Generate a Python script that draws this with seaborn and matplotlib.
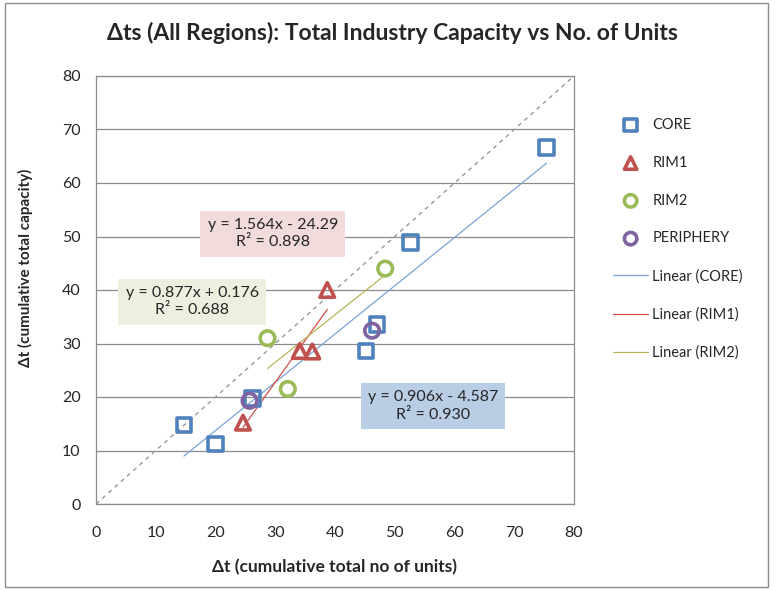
import matplotlib
matplotlib.use("Agg")
import matplotlib.pyplot as plt
import matplotlib.patches as mpatches
import pandas as pd
import seaborn as sns

# data
core_x = [75.4, 52.6, 47.0, 45.2, 26.2, 14.7, 20.0]
core_y = [66.6, 48.9, 33.6, 28.6, 19.7, 14.8, 11.2]
rim1_x = [38.7, 34.1, 36.2, 24.6]
rim1_y = [40.0, 28.6, 28.5, 15.2]
rim2_x = [48.4, 28.7, 32.1]
rim2_y = [44.0, 31.0, 21.5]
peri_x = [25.7, 46.2]
peri_y = [19.3, 32.4]

groups = ["CORE", "RIM1", "RIM2", "PERIPHERY"]
colors = {"CORE": "#4F81BD", "RIM1": "#C0504D", "RIM2": "#9BBB59", "PERIPHERY": "#8064A2"}
markers = {"CORE": "s", "RIM1": "^", "RIM2": "o", "PERIPHERY": "o"}
line_colors = {"CORE": "#7BA3D6", "RIM1": "#D0504D", "RIM2": "#B8B45A"}

eq_text = {
    "CORE": "y = 0.906x - 4.587\nR² = 0.930",
    "RIM1": "y = 1.564x - 24.29\nR² = 0.898",
    "RIM2": "y = 0.877x + 0.176\nR² = 0.688",
}
eq_pos = {"CORE": (56.4, 18.3), "RIM1": (29.6, 50.5), "RIM2": (16.1, 37.8)}
eq_bg = {"CORE": "#B9CDE5", "RIM1": "#F2DCDB", "RIM2": "#EBF1DE"}

df = pd.DataFrame({
    "x": core_x + rim1_x + rim2_x + peri_x,
    "y": core_y + rim1_y + rim2_y + peri_y,
    "region": ["CORE"] * len(core_x) + ["RIM1"] * len(rim1_x)
    + ["RIM2"] * len(rim2_x) + ["PERIPHERY"] * len(peri_x),
})

sns.set_style("white")
plt.rcParams["font.family"] = ["Lato", "DejaVu Sans"]

fig = plt.figure(figsize=(7.77, 5.90), dpi=100)
ax = fig.add_axes([96 / 777, 1 - 504 / 590, (574 - 96) / 777, (504 - 76) / 590])

ax.axline((0, 0), slope=1, color="#999999", lw=1, ls=(0, (3, 3)), zorder=1)

for g in groups:
    sub = df[df.region == g]
    sns.scatterplot(data=sub, x="x", y="y", ax=ax, marker=markers[g], s=110,
                    color=colors[g], facecolor="none", edgecolor=colors[g],
                    linewidth=2.6, label=g, zorder=3)

for g in ["CORE", "RIM1", "RIM2"]:
    sub = df[df.region == g]
    sns.regplot(data=sub, x="x", y="y", ax=ax, scatter=False, ci=None, truncate=True,
                label=f"Linear ({g})",
                line_kws={"color": line_colors[g], "lw": 0.9, "zorder": 2})
    ax.text(*eq_pos[g], eq_text[g], ha="center", va="center", fontsize=11.5,
            linespacing=1.3, zorder=4,
            bbox=dict(boxstyle="square,pad=0.45", fc=eq_bg[g], ec="none"))

ax.set_xlim(0, 80)
ax.set_ylim(0, 80)
ax.set_xticks(range(0, 81, 10))
ax.set_yticks(range(0, 81, 10))
ax.yaxis.grid(True, color="#8C8C8C", lw=0.9)
ax.xaxis.grid(False)
for s in ax.spines.values():
    s.set_color("#8C8C8C")
    s.set_linewidth(0.9)
ax.tick_params(axis="both", direction="out", length=5, color="#8C8C8C",
               labelsize=11.5, width=0.9)
ax.tick_params(axis="x", pad=11)
ax.tick_params(axis="y", pad=6)

ax.set_xlabel("Δt (cumulative total no of units)", fontsize=12.5, fontweight="bold")
ax.xaxis.set_label_coords(0.5, (504 - 559) / 428)
ax.set_ylabel("Δt (cumulative total capacity)", fontsize=11, fontweight="bold")
ax.yaxis.set_label_coords((33 - 96) / 478, (504 - 268) / 428)
fig.text(392 / 777, 1 - 33 / 590,
         "Δts (All Regions): Total Industry Capacity vs No. of Units",
         ha="center", va="center", fontsize=16.5, fontweight="bold")

ax.legend(loc="upper left", bbox_to_anchor=(600 / 777, 1 - 105 / 590),
          bbox_transform=fig.transFigure, frameon=False, fontsize=10.5,
          labelspacing=1.63, handlelength=2.4, handletextpad=0.3, markerscale=0.85)

fig.patches.append(mpatches.Rectangle((5 / 777, 3 / 590), 763 / 777, 584 / 590,
                                      transform=fig.transFigure, fill=False,
                                      ec="#8C8C8C", lw=1))

fig.savefig("out.png", dpi=100)
